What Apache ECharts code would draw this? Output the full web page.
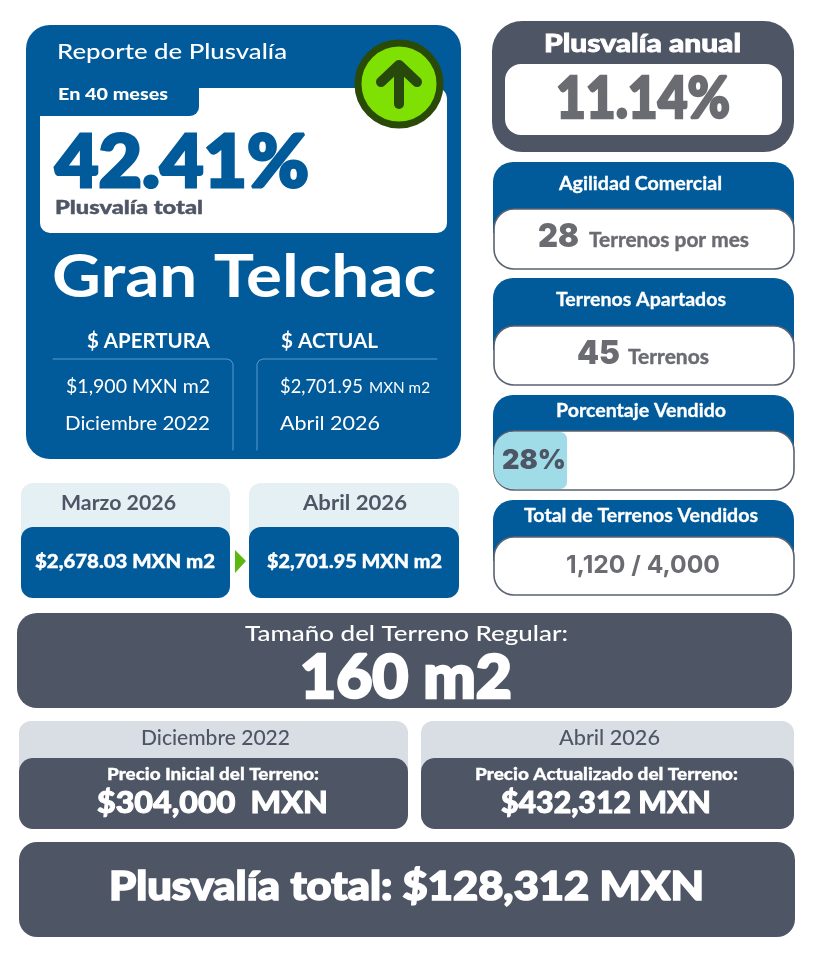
<!DOCTYPE html>
<html><head><meta charset="utf-8">
<style>html,body{margin:0;padding:0;background:#fff}#c{width:813px;height:965px}</style>
<script src="https://cdn.jsdelivr.net/npm/echarts@6/dist/echarts.min.js"></script>
</head><body><div id="c"></div>
<script>
// ---- data ----
const reportTitle = ['Reporte de Plusvalía', 'En 40 meses', '42.41%', 'Plusvalía total', 'Gran Telchac'];
const priceHeads = ['$ APERTURA', '$ ACTUAL'];
const openingInfo = ['$1,900 MXN m2', 'Diciembre 2022'];
const currentInfo = ['$2,701.95', 'MXN m2', 'Abril 2026'];
const monthNames = ['Marzo 2026', 'Abril 2026'];
const monthPrices = ['$2,678.03 MXN m2', '$2,701.95 MXN m2'];
const annual = ['Plusvalía anual', '11.14%'];
const cardTitles = ['Agilidad Comercial', 'Terrenos Apartados', 'Porcentaje Vendido', 'Total de Terrenos Vendidos'];
const agility = ['28', 'Terrenos por mes'];
const reserved = ['45', 'Terrenos'];
const soldCategories = ['Vendido'];
const soldPercent = [28];
const soldTotal = ['1,120 / 4,000'];
const lotSize = ['Tamaño del Terreno Regular:', '160 m2'];
const lotMonths = ['Diciembre 2022', 'Abril 2026'];
const lotLabels = ['Precio Inicial del Terreno:', 'Precio Actualizado del Terreno:'];
const lotPrices = ['$304,000  MXN', '$432,312 MXN'];
const totalGain = ['Plusvalía total: $128,312 MXN'];

// ---- helpers ----
const BLUE = '#015a99', SLATE = '#4e5565', GREY = '#6b6c72', FAM = 'Lato';
const ctx = document.createElement('canvas').getContext('2d');
const els = [];
function box(x0, y0, x1, y1, r, fill, stroke, lw) {
  els.push({type: 'rect', shape: {x: x0, y: y0, width: x1 - x0, height: y1 - y0, r: r},
    style: {fill: fill, stroke: stroke || null, lineWidth: lw || 0}, silent: true});
}
function txt(s, x0, x1, base, size, weight, color, fam, bold) {
  const f = weight + ' ' + size + 'px ' + (fam || FAM);
  ctx.font = f;
  ctx.textBaseline = 'middle';
  const m = ctx.measureText(s);
  const off = m.alphabeticBaseline != null ? Math.abs(m.alphabeticBaseline) : size * 0.3;
  const sx = (x1 - x0) / m.width;
  const style = {text: s, x: 0, y: 0, fill: color, font: f, align: 'left', verticalAlign: 'top', lineHeight: size};
  if (bold) { style.stroke = color; style.lineWidth = bold; }
  els.push({type: 'text', x: x0, y: base - off - size / 2, scaleX: sx, silent: true, style: style});
}
function line(pts, color, lw) {
  els.push({type: 'polyline', shape: {points: pts}, silent: true,
    style: {stroke: color, lineWidth: lw, fill: null, lineCap: 'round', lineJoin: 'round'}});
}

// main report card
box(26, 25, 461, 459, 24, BLUE);
box(40, 88, 447, 233, [0, 10, 10, 10], '#ffffff');
box(26, 78, 199, 116, [0, 0, 9, 0], BLUE);
txt(reportTitle[0], 57, 287, 59, 22, 500, '#ffffff');
txt(reportTitle[1], 58, 168, 100, 17.5, 900, '#ffffff');
txt(reportTitle[2], 55, 309, 187, 73, 900, BLUE, FAM, 3);
txt(reportTitle[3], 55, 203, 214, 18, 900, SLATE, FAM, 0.4);
txt(reportTitle[4], 52, 436, 297, 60, 700, '#ffffff');
txt(priceHeads[0], 87, 210, 348, 20, 700, '#ffffff');
txt(priceHeads[1], 281, 378, 348, 20, 700, '#ffffff');
line([[53, 359], [227, 359], [231, 360.5], [233, 364], [233, 450]], '#5b9ccb', 1);
line([[437, 359], [263, 359], [259, 360.5], [257, 364], [257, 450]], '#5b9ccb', 1);
txt(openingInfo[0], 66, 210, 393, 20, 400, '#ffffff');
txt(openingInfo[1], 65, 210, 430, 20, 400, '#ffffff');
txt(currentInfo[0], 280, 363, 393, 20, 400, '#ffffff');
txt(currentInfo[1], 369, 430, 393, 15, 400, '#ffffff');
txt(currentInfo[2], 280, 380, 430, 20, 400, '#ffffff');

// up-arrow badge
els.push({type: 'circle', shape: {cx: 399, cy: 84, r: 41}, silent: true,
  style: {fill: '#7fe003', stroke: '#2a4a07', lineWidth: 7}});
line([[399, 104], [399, 66]], '#274a0c', 10);
line([[381, 82], [399, 65], [417, 82]], '#274a0c', 10);

// month comparison
box(21, 483, 230, 560, 12, '#e5f0f5');
box(249, 483, 459, 560, 12, '#e5f0f5');
box(21, 527, 230, 598, 12, BLUE);
box(249, 527, 459, 598, 12, BLUE);
txt(monthNames[0], 61, 176, 510, 21, 700, SLATE);
txt(monthNames[1], 303, 407, 510, 21, 700, SLATE);
txt(monthPrices[0], 35, 215, 568, 19, 900, '#ffffff', FAM, 0.4);
txt(monthPrices[1], 267, 442, 568, 19, 900, '#ffffff', FAM, 0.4);
els.push({type: 'polygon', shape: {points: [[235, 550], [246, 561], [235, 573]]}, silent: true, style: {fill: '#5cb811'}});

// annual
box(492, 21, 794, 152, 30, SLATE);
box(505, 64, 782, 135, 16, '#ffffff');
txt(annual[0], 544, 741, 52, 24, 900, '#ffffff', FAM, 0.8);
txt(annual[1], 556, 730, 118, 58, 900, GREY, FAM, 2.5);

// cards
function card(top, whiteTop, whiteBottom) {
  box(493, top, 794, whiteTop + 24, [20, 20, 0, 0], BLUE);
  box(494, whiteTop, 794, whiteBottom, 20, '#ffffff', '#5b6270', 1.6);
}
card(162, 209, 269);
txt(cardTitles[0], 559, 722, 190, 18, 700, '#ffffff', FAM, 0.3);
txt(agility[0], 538, 579, 247, 33, 900, GREY, 'Inter');
txt(agility[1], 589, 749, 247, 20, 700, GREY, FAM, 0.4);

card(278, 326, 385);
txt(cardTitles[1], 556, 726, 306, 18, 700, '#ffffff', FAM, 0.3);
txt(reserved[0], 577, 620, 364, 33, 900, GREY, 'Inter');
txt(reserved[1], 628, 709, 364, 20, 700, GREY, FAM, 0.4);

card(395, 431, 490);
txt(cardTitles[2], 556, 726, 417, 18, 700, '#ffffff', FAM, 0.3);

card(500, 537, 595);
txt(cardTitles[3], 524, 758, 522, 18, 700, '#ffffff', FAM, 0.3);
txt(soldTotal[0], 566, 720, 573, 24, 700, GREY, 'Inter');

// lot size
box(17, 613, 792, 708, 20, SLATE);
txt(lotSize[0], 245, 568, 641, 22, 500, '#ffffff');
txt(lotSize[1], 300, 512, 698, 60, 900, '#ffffff', FAM, 2.5);

box(19, 721, 408, 790, 12, '#d9dde4');
box(421, 721, 794, 790, 12, '#d9dde4');
box(19, 758, 408, 829, 14, SLATE);
box(421, 758, 794, 829, 14, SLATE);
txt(lotMonths[0], 141, 290, 745, 21, 500, SLATE);
txt(lotMonths[1], 559, 660, 745, 21, 500, SLATE);
txt(lotLabels[0], 107, 319, 780, 16, 900, '#ffffff', FAM, 0.3);
txt(lotLabels[1], 475, 738, 780, 16, 900, '#ffffff', FAM, 0.3);
txt(lotPrices[0], 97, 328, 813, 30, 900, '#ffffff', FAM, 1);
txt(lotPrices[1], 501, 711, 813, 30, 900, '#ffffff', FAM, 1);

box(19, 842, 795, 937, 18, SLATE);
txt(totalGain[0], 109, 704, 900, 40, 900, '#ffffff', FAM, 1.6);

const chart = echarts.init(document.getElementById('c'), null, {width: 813, height: 965});
chart.setOption({
  animation: false,
  backgroundColor: '#ffffff',
  grid: {left: 494, top: 432, width: 261, height: 57, containLabel: false},
  xAxis: {type: 'value', min: 0, max: 100, show: false},
  yAxis: {type: 'category', data: soldCategories, show: false},
  graphic: {elements: els},
  series: [{
    type: 'bar', data: soldPercent, barWidth: '100%', silent: true,
    itemStyle: {color: '#9fdce8', borderRadius: [19, 7, 7, 19]},
    label: {show: true, position: 'insideLeft', distance: 8, formatter: '{c}%',
      color: SLATE, fontFamily: 'Inter', fontWeight: 900, fontSize: 27}
  }]
});
</script></body></html>
